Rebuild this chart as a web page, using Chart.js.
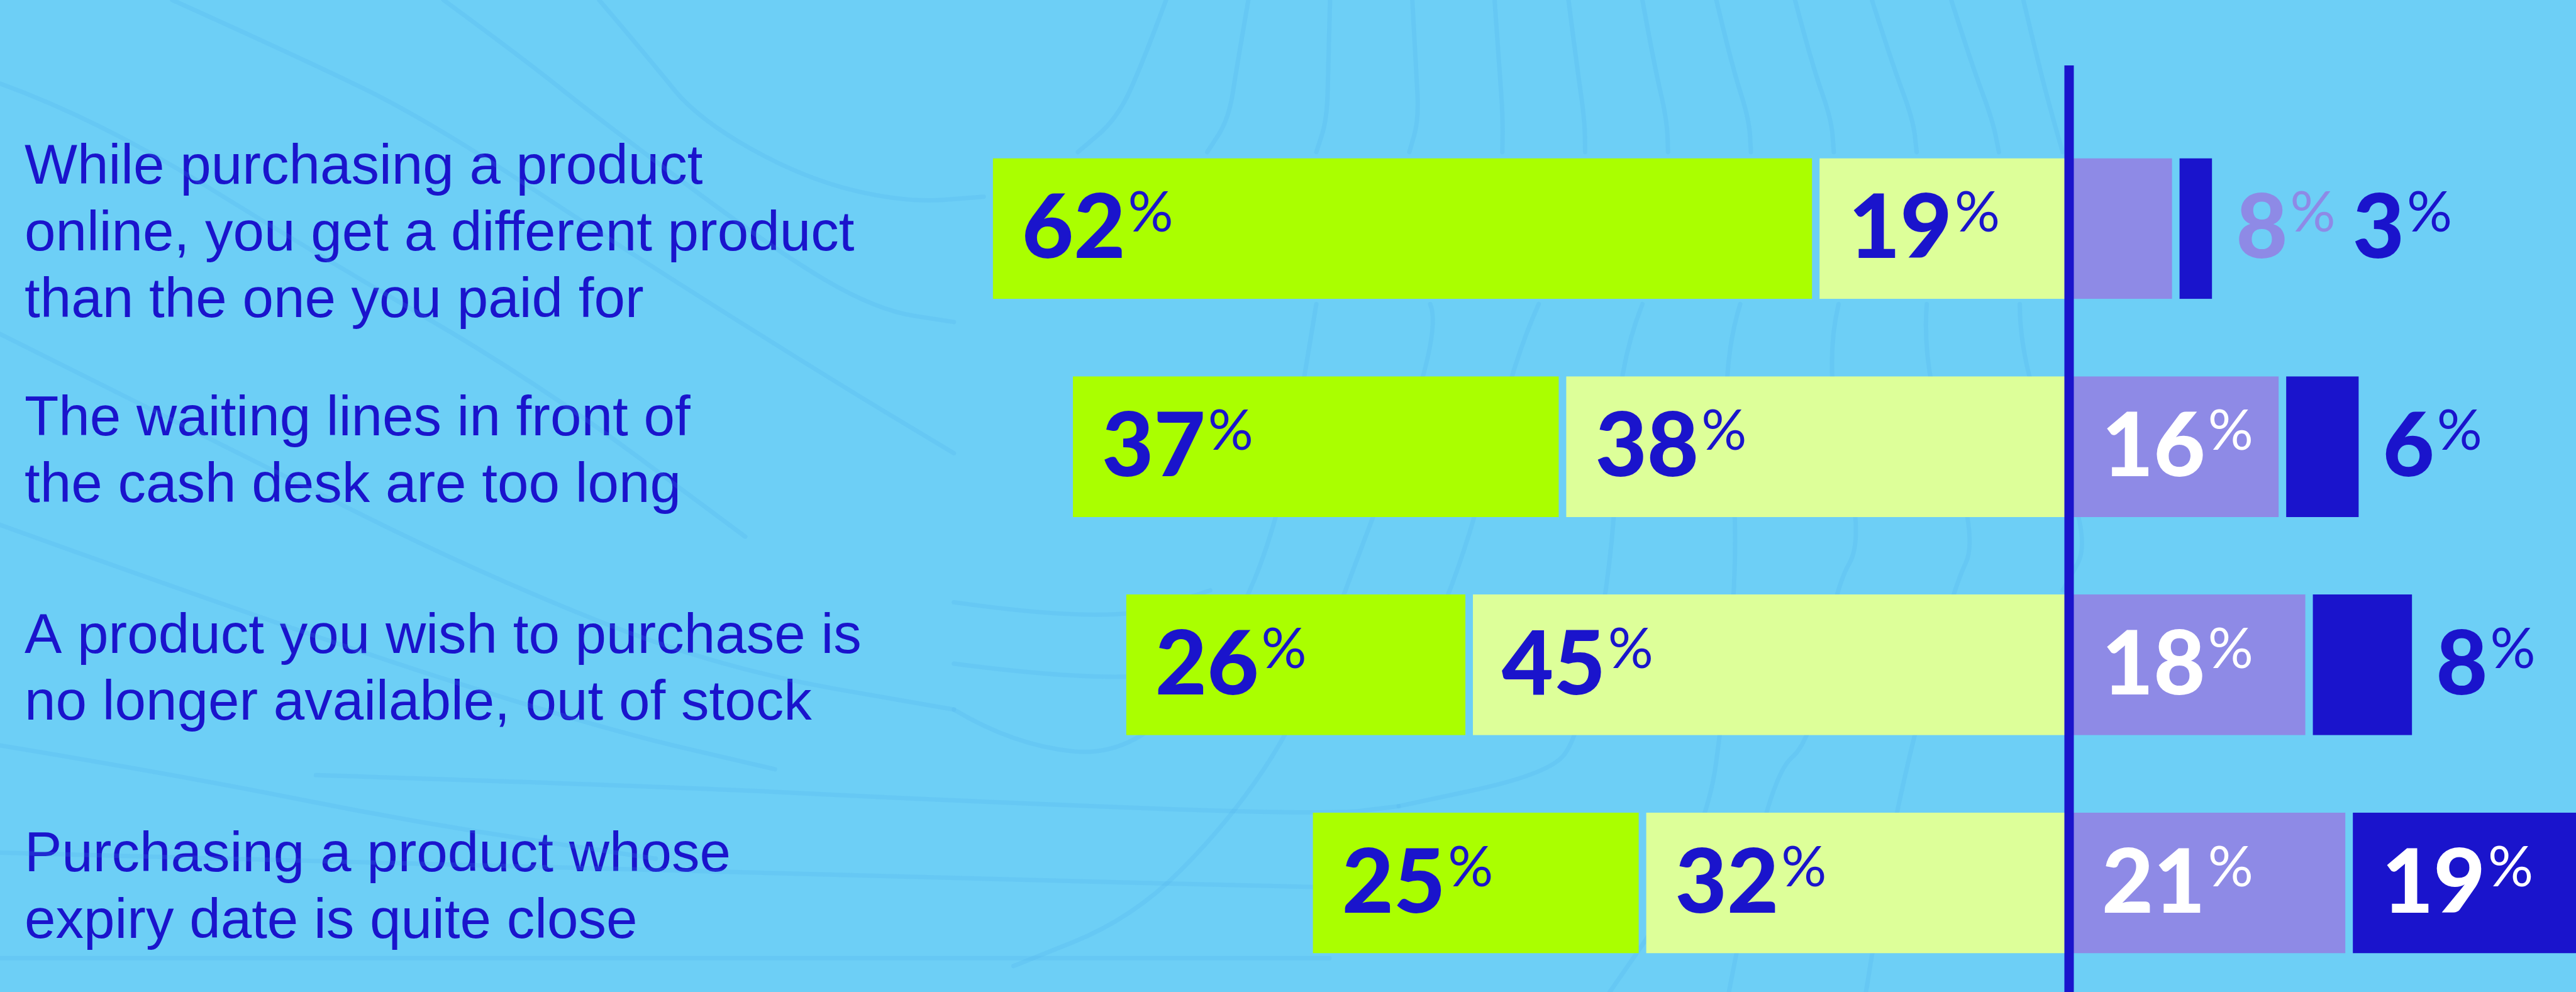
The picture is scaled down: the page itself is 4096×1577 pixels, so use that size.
<!DOCTYPE html>
<html>
<head>
<meta charset="utf-8">
<title>Annoying shopping situations</title>
<script src="https://cdn.jsdelivr.net/npm/chart.js@4.4.1/dist/chart.umd.min.js"></script>
<style>
  html, body { margin: 0; padding: 0; background: #6dcff6; overflow: hidden; }
  #wrap { width: 4096px; height: 1577px; position: relative; }
  canvas { display: block; }
</style>
</head>
<body>
<div id="wrap"><canvas id="chart" width="4096" height="1577"></canvas></div>
<script>
// Survey situations, one per row (multi-line labels)
const categories = [
  ['While purchasing a product', 'online, you get a different product', 'than the one you paid for'],
  ['The waiting lines in front of', 'the cash desk are too long'],
  ['A product you wish to purchase is', 'no longer available, out of stock'],
  ['Purchasing a product whose', 'expiry date is quite close']
];

// Shares of respondents (%)
const veryAnnoying     = [62, 37, 26, 25];
const quiteAnnoying    = [19, 38, 45, 32];
const notVeryAnnoying  = [8, 16, 18, 21];
const notAtAllAnnoying = [3, 6, 8, 19];

const INK = '#1a14cc';
const LIME = '#aaff00';
const PALE_LIME = '#ddff99';
const LILAC = '#8e8ae6';

const NUM_FONT = 'Lato, "Liberation Sans", Arial, sans-serif';
const NUM_SIZE = 142;
const PCT_SIZE = 90;

// Faint topographic contours behind the chart (page decoration, in 4321-wide artboard units)
const contours = [
  [[0, 140], [165, 200], [520, 420], [900, 640], [1250, 900]],
  [[289, 0], [500, 95], [716, 200], [1050, 420], [1400, 640], [1600, 760]],
  [[744, 0], [880, 100], [1005, 200], [1300, 420], [1470, 520], [1600, 540]],
  [[1005, 0], [1090, 100], [1171, 200], [1350, 300], [1520, 340], [1650, 330]],
  [[1956, 0], [1915, 110], [1873, 200], [1808, 255]],
  [[2094, 0], [2075, 110], [2061, 200], [2025, 255]],
  [[2231, 0], [2228, 110], [2226, 200], [2208, 255]],
  [[2369, 0], [2375, 110], [2380, 200], [2364, 255]],
  [[2507, 0], [2515, 110], [2521, 200], [2520, 255]],
  [[2631, 0], [2645, 110], [2658, 200], [2659, 255]],
  [[2755, 0], [2775, 110], [2796, 200], [2798, 255]],
  [[2879, 0], [2905, 110], [2934, 200], [2937, 255]],
  [[3011, 0], [3040, 110], [3072, 200], [3076, 255]],
  [[3140, 0], [3175, 110], [3209, 200], [3215, 255]],
  [[3273, 0], [3308, 110], [3342, 200], [3353, 255]],
  [[3394, 0], [3420, 110], [3444, 200], [3460, 255]],
  [[1600, 1190], [1700, 1250], [1900, 1270], [2060, 1080], [2150, 860], [2208, 510]],
  [[2399, 510], [2420, 560], [2260, 980], [2180, 1200], [2060, 1380], [1900, 1540], [1700, 1620]],
  [[2581, 510], [2540, 600], [2468, 900], [2380, 1120], [2329, 1000]],
  [[2755, 510], [2711, 620], [2711, 900], [2650, 1240], [2590, 1300], [2346, 1352]],
  [[2919, 510], [2885, 620], [2919, 900], [2885, 1240], [2867, 1352], [2800, 1520], [2700, 1664]],
  [[3084, 510], [3058, 620], [3128, 900], [3076, 990], [3041, 1240], [2971, 1300], [2900, 1664]],
  [[3232, 510], [3223, 620], [3319, 900], [3275, 990], [3180, 1352], [3130, 1664]],
  [[3388, 510], [3388, 620], [3510, 900], [3460, 990]],
  [[1600, 1010], [1860, 1047], [2030, 990]],
  [[1600, 1113], [1860, 1147], [2060, 1110]],
  [[530, 1300], [1100, 1318], [1600, 1343], [2225, 1367], [2346, 1352]],
  [[0, 1430], [800, 1450], [1600, 1473], [2225, 1488]],
  [[0, 1607], [1600, 1607], [2230, 1607]],
  [[0, 1250], [300, 1300], [700, 1380], [1100, 1440]],
  [[0, 560], [400, 760], [800, 960], [1200, 1120], [1600, 1190]],
  [[0, 880], [500, 1060], [1000, 1220], [1300, 1290]]
];
const ARTBOARD_SCALE = 4096 / 4321;

const topoBackdrop = {
  id: 'topoBackdrop',
  beforeDatasetsDraw(chart) {
    const ctx = chart.ctx;
    ctx.save();
    ctx.strokeStyle = 'rgba(70, 170, 235, 0.16)';
    ctx.lineWidth = 7;
    ctx.lineCap = 'round';
    ctx.lineJoin = 'round';
    contours.forEach(pts => {
      const p = pts.map(([x, y]) => [x * ARTBOARD_SCALE, y * ARTBOARD_SCALE]);
      ctx.beginPath();
      ctx.moveTo(p[0][0], p[0][1]);
      for (let i = 1; i < p.length - 1; i++) {
        const mx = (p[i][0] + p[i + 1][0]) / 2;
        const my = (p[i][1] + p[i + 1][1]) / 2;
        ctx.quadraticCurveTo(p[i][0], p[i][1], mx, my);
      }
      const last = p[p.length - 1];
      ctx.lineTo(last[0], last[1]);
      ctx.stroke();
    });
    ctx.restore();
  }
};

function drawValue(ctx, value, x, cy, color) {
  const num = String(value);
  ctx.font = `900 ${NUM_SIZE}px ${NUM_FONT}`;
  const m = ctx.measureText('0');
  const digitH = m.actualBoundingBoxAscent;
  const baseline = cy + digitH / 2 - 5;
  ctx.fillStyle = color;
  ctx.textAlign = 'left';
  ctx.textBaseline = 'alphabetic';
  ctx.fillText(num, x, baseline);
  const numW = ctx.measureText(num).width;
  ctx.font = `normal ${PCT_SIZE}px ${NUM_FONT}`;
  const pm = ctx.measureText('%');
  const pctTop = baseline - digitH - 3;
  ctx.fillText('%', x + numW + 4, pctTop + pm.actualBoundingBoxAscent);
  return numW + 4 + pm.width;
}

function valueWidth(ctx, value) {
  ctx.font = `900 ${NUM_SIZE}px ${NUM_FONT}`;
  const w = ctx.measureText(String(value)).width;
  ctx.font = `normal ${PCT_SIZE}px ${NUM_FONT}`;
  return w + 4 + ctx.measureText('%').width;
}

// Zero divider and the percentage labels on / beside each segment
const divergingLabels = {
  id: 'divergingLabels',
  afterDatasetsDraw(chart, args, opts) {
    const ctx = chart.ctx;
    const xs = chart.scales.x;
    const x0 = xs.getPixelForValue(0);
    ctx.save();
    ctx.fillStyle = INK;
    ctx.fillRect(x0 - 7.5, opts.lineTop, 15, chart.height - opts.lineTop);

    const pad = 52;
    categories.forEach((_, j) => {
      let rowRight = x0;
      const outside = [];
      chart.data.datasets.forEach((ds, i) => {
        const el = chart.getDatasetMeta(i).data[j];
        const p = el.getProps(['x', 'base', 'y', 'height'], true);
        const left = Math.min(p.x, p.base);
        const right = Math.max(p.x, p.base);
        const value = Math.abs(ds.data[j]);
        if (ds.data[j] > 0) rowRight = Math.max(rowRight, right);
        const w = valueWidth(ctx, value);
        if (right - left >= pad + w + 10) {
          drawValue(ctx, value, left + pad, p.y, ds.labelColor);
        } else {
          outside.push({ value, y: p.y, color: ds.backgroundColor });
        }
      });
      let cx = rowRight + 32;
      outside.forEach(o => {
        const w = drawValue(ctx, o.value, cx, o.y, o.color);
        cx += w + 27;
      });
    });
    ctx.restore();
  }
};

const gap = { top: 0, bottom: 0, left: 6, right: 6 };

new Chart(document.getElementById('chart'), {
  type: 'bar',
  data: {
    labels: categories,
    datasets: [
      { label: 'Quite annoying', data: quiteAnnoying.map(v => -v), backgroundColor: PALE_LIME, labelColor: INK },
      { label: 'Very annoying', data: veryAnnoying.map(v => -v), backgroundColor: LIME, labelColor: INK },
      { label: 'Not very annoying', data: notVeryAnnoying, backgroundColor: LILAC, labelColor: '#ffffff' },
      { label: 'Not at all annoying', data: notAtAllAnnoying, backgroundColor: INK, labelColor: '#ffffff' }
    ].map(d => Object.assign(d, {
      borderWidth: gap,
      borderColor: 'rgba(0,0,0,0)',
      borderSkipped: false,
      barPercentage: 0.645,
      categoryPercentage: 1
    }))
  },
  options: {
    indexAxis: 'y',
    responsive: false,
    animation: false,
    devicePixelRatio: 1,
    layout: { padding: { left: 39, top: 190, right: 0, bottom: 0 } },
    scales: {
      x: {
        stacked: true,
        min: -85.38,
        max: 38.02,
        display: false
      },
      y: {
        stacked: true,
        grid: { display: false },
        border: { display: false },
        ticks: {
          crossAlign: 'far',
          padding: 0,
          labelOffset: 10,
          color: INK,
          font: { family: '"Liberation Sans", Arial, sans-serif', size: 89, lineHeight: 1.19 }
        },
        afterFit(scale) {
          scale.width = 1441;
          scale.paddingTop = 0;
          scale.paddingBottom = 0;
        }
      }
    },
    plugins: {
      legend: { display: false },
      tooltip: { enabled: false },
      divergingLabels: { lineTop: 104 }
    }
  },
  plugins: [topoBackdrop, divergingLabels]
});
</script>
</body>
</html>
